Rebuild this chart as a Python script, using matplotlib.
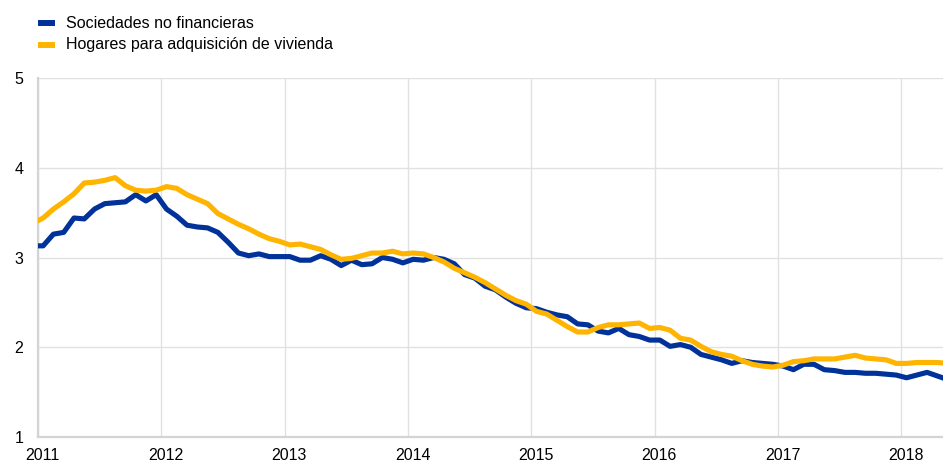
import matplotlib
matplotlib.use("Agg")
import matplotlib.pyplot as plt
from matplotlib.lines import Line2D
import numpy as np

plt.rcParams['font.family'] = ['Liberation Sans', 'DejaVu Sans']

# Monthly data, Dec 2010 .. May 2018
start_year, start_month = 2010, 12
sociedades = [3.13,
    3.13, 3.26, 3.28, 3.44, 3.43, 3.54, 3.60, 3.61, 3.62, 3.70, 3.63, 3.70,
    3.54, 3.46, 3.36, 3.34, 3.33, 3.28, 3.17, 3.05, 3.02, 3.04, 3.01, 3.01,
    3.01, 2.97, 2.97, 3.02, 2.98, 2.91, 2.97, 2.92, 2.93, 3.00, 2.98, 2.94,
    2.98, 2.97, 3.00, 2.98, 2.93, 2.81, 2.77, 2.68, 2.64, 2.56, 2.49, 2.44,
    2.43, 2.39, 2.36, 2.34, 2.26, 2.25, 2.18, 2.16, 2.21, 2.14, 2.12, 2.08,
    2.08, 2.01, 2.03, 2.00, 1.92, 1.89, 1.86, 1.82, 1.85, 1.83, 1.82, 1.81,
    1.79, 1.75, 1.81, 1.81, 1.75, 1.74, 1.72, 1.72, 1.71, 1.71, 1.70, 1.69,
    1.66, 1.69, 1.72, 1.68, 1.64]
hogares = [3.38,
    3.44, 3.54, 3.62, 3.71, 3.83, 3.84, 3.86, 3.89, 3.80, 3.75, 3.74, 3.75,
    3.79, 3.77, 3.70, 3.65, 3.60, 3.49, 3.43, 3.37, 3.32, 3.26, 3.21, 3.18,
    3.14, 3.15, 3.12, 3.09, 3.03, 2.98, 2.99, 3.02, 3.05, 3.05, 3.07, 3.04,
    3.05, 3.04, 3.00, 2.95, 2.88, 2.83, 2.78, 2.72, 2.65, 2.58, 2.52, 2.48,
    2.40, 2.37, 2.30, 2.23, 2.17, 2.17, 2.22, 2.25, 2.25, 2.26, 2.27, 2.21,
    2.22, 2.19, 2.10, 2.08, 2.01, 1.95, 1.92, 1.90, 1.85, 1.81, 1.79, 1.78,
    1.80, 1.84, 1.85, 1.87, 1.87, 1.87, 1.89, 1.91, 1.88, 1.87, 1.86, 1.82,
    1.82, 1.83, 1.83, 1.83, 1.82]
years = [2011, 2012, 2013, 2014, 2015, 2016, 2017, 2018]
yticks = [1, 2, 3, 4, 5]
labels = ["Sociedades no financieras", "Hogares para adquisición de vivienda"]
colors = ["#003299", "#FFB400"]

# x position in months since Jan 2011, plotted mid-month
offset = (start_year - 2011) * 12 + (start_month - 1)
x = np.arange(len(sociedades)) + offset + 0.5

W, H = 943, 463
fig = plt.figure(figsize=(W / 100, H / 100), dpi=100)
ax = fig.add_axes([38 / W, (H - 437) / H, 1 - 38 / W, (437 - 78) / H])

ax.plot(x, sociedades, color=colors[0], lw=3.7, solid_joinstyle='round', zorder=3)
ax.plot(x, hogares, color=colors[1], lw=3.7, solid_joinstyle='round', zorder=4)

ax.set_ylim(1, 5)
ax.set_xlim(0, (2018 - 2011) * 12 + 4.05)
ax.set_yticks(yticks)
ax.set_yticklabels([str(v) for v in yticks])

major = [(y - 2011) * 12 for y in years]
ax.set_xticks(major)
ax.set_xticklabels([])
ax.set_xticks([m + 0.45 for m in major], minor=True)
ax.set_xticklabels([str(y) for y in years], minor=True)

ax.grid(True, which='major', color='#e1e1e1', lw=1.0, zorder=0)
ax.tick_params(axis='both', which='both', length=0, labelsize=11.5, colors='#000000')
ax.tick_params(axis='y', pad=10.5)
ax.tick_params(axis='x', which='minor', pad=8)

for s in ['top', 'right']:
    ax.spines[s].set_visible(False)
for s in ['left', 'bottom']:
    ax.spines[s].set_color('#d4d4d4')
    ax.spines[s].set_linewidth(1.6)

# legend
for i, (lab, col) in enumerate(zip(labels, colors)):
    yy = 1 - (23 + 22 * i) / H
    fig.add_artist(Line2D([38 / W, 55 / W], [yy, yy], transform=fig.transFigure,
                          color=col, lw=4.3, solid_capstyle='butt'))
    fig.text(66 / W, yy, lab, fontsize=11.5, va='center', ha='left', color='#000000')

fig.savefig("out.png", dpi=100)
